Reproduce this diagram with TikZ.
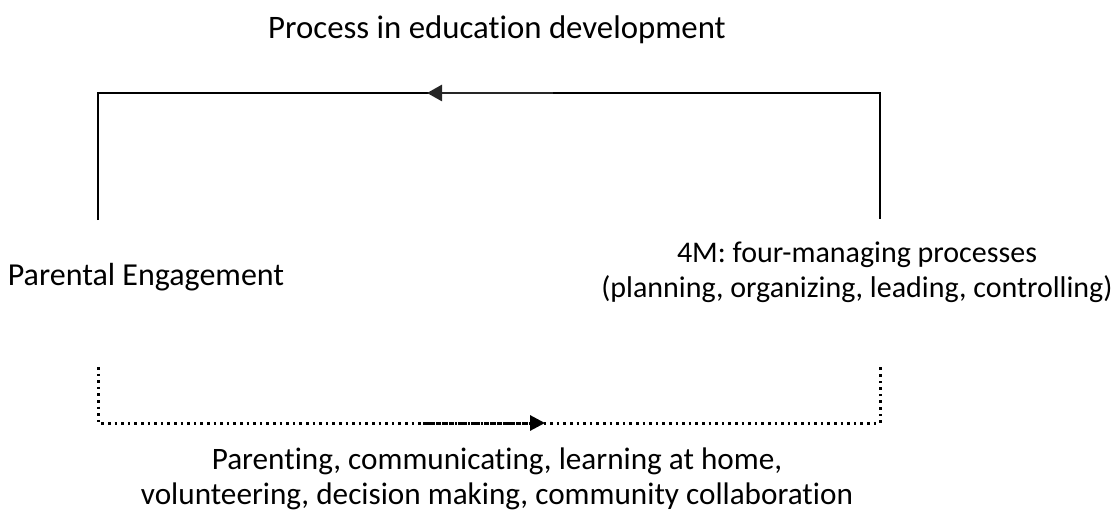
\documentclass[tikz,border=0pt]{standalone}
\usepackage{fontspec}
\setmainfont{Carlito}[Ligatures=NoCommon]
\usetikzlibrary{arrows.meta}

\begin{document}
\begin{tikzpicture}[
  x=0.5pt, y=-0.5pt,
  every node/.style={font=\fontsize{15.6}{17.5}\selectfont, inner sep=0pt},
  textnode/.style={align=center, anchor=base},
  solidline/.style={line width=1pt},
  dotline/.style={line width=1.5pt, dash pattern=on 1.3pt off 2pt},
  toparrow/.style={line width=1.4pt, black!85, -{Triangle[length=7.5pt, width=8pt]}},
  botarrow/.style={line width=1.5pt, dash pattern=on 1.2pt off 0.4pt, -{Triangle[length=7.5pt, width=7.5pt]}}
]
\useasboundingbox (0,0) rectangle (1117,513);

% Labels (base = last line)
\node[textnode, font=\fontsize{16.4}{17.5}\selectfont] (title) at (497,39) {Process in education development};
\node[textnode, font=\fontsize{16}{17.5}\selectfont] (pe) at (146,285) {Parental Engagement};
\node[textnode, font=\fontsize{15}{17.5}\selectfont] (mm) at (857,297) {4M: four-managing processes\\(planning, organizing, leading, controlling)};
\node[textnode] (acts) at (497,504) {Parenting, communicating, learning at home,\\volunteering, decision making, community collaboration};

% Anchor points of the loop
\coordinate (pe top) at (98,220);
\coordinate (mm top) at (880,219);
\coordinate (top right) at (880,93);
\coordinate (pe bot) at (98,367);
\coordinate (mm bot) at (880,367);
\coordinate (bot right) at (880,423);

% Upper loop (solid)
\draw[solidline] (pe top) |- (top right) -- (mm top);
\coordinate (ta from) at (553,93);
\coordinate (ta to) at (427,93);
\draw[toparrow] (ta from) -- (ta to);

% Lower loop (dotted)
\draw[dotline] (pe bot) |- (bot right) -- (mm bot);
\coordinate (ba from) at (423,423);
\coordinate (ba to) at (545,423);
\draw[botarrow] (ba from) -- (ba to);
\end{tikzpicture}
\end{document}
